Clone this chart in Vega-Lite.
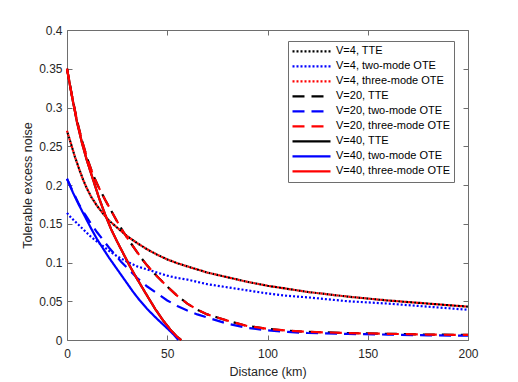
{
  "$schema": "https://vega.github.io/schema/vega-lite/v6.json",
  "width": 401,
  "height": 310,
  "autosize": {"type": "none"},
  "padding": {"left": 67, "top": 30, "right": 50, "bottom": 42},
  "background": "white",
  "data": {"values": [
    {"s":"V=4, TTE","d":0,"v":0.270},{"s":"V=4, TTE","d":2,"v":0.253},{"s":"V=4, TTE","d":4,"v":0.236},{"s":"V=4, TTE","d":6,"v":0.221},{"s":"V=4, TTE","d":8,"v":0.207},{"s":"V=4, TTE","d":10,"v":0.195},{"s":"V=4, TTE","d":12,"v":0.185},{"s":"V=4, TTE","d":15,"v":0.173},{"s":"V=4, TTE","d":18,"v":0.163},{"s":"V=4, TTE","d":21,"v":0.154},{"s":"V=4, TTE","d":25,"v":0.145},{"s":"V=4, TTE","d":30,"v":0.134},{"s":"V=4, TTE","d":35,"v":0.125},{"s":"V=4, TTE","d":40,"v":0.117},{"s":"V=4, TTE","d":45,"v":0.110},{"s":"V=4, TTE","d":50,"v":0.104},{"s":"V=4, TTE","d":55,"v":0.099},{"s":"V=4, TTE","d":60,"v":0.095},{"s":"V=4, TTE","d":70,"v":0.087},{"s":"V=4, TTE","d":80,"v":0.081},{"s":"V=4, TTE","d":90,"v":0.075},{"s":"V=4, TTE","d":100,"v":0.070},{"s":"V=4, TTE","d":110,"v":0.066},{"s":"V=4, TTE","d":120,"v":0.062},{"s":"V=4, TTE","d":140,"v":0.056},{"s":"V=4, TTE","d":160,"v":0.051},{"s":"V=4, TTE","d":180,"v":0.047},{"s":"V=4, TTE","d":200,"v":0.043},
    {"s":"V=4, three-mode OTE","d":0,"v":0.270},{"s":"V=4, three-mode OTE","d":2,"v":0.253},{"s":"V=4, three-mode OTE","d":4,"v":0.236},{"s":"V=4, three-mode OTE","d":6,"v":0.221},{"s":"V=4, three-mode OTE","d":8,"v":0.207},{"s":"V=4, three-mode OTE","d":10,"v":0.195},{"s":"V=4, three-mode OTE","d":12,"v":0.185},{"s":"V=4, three-mode OTE","d":15,"v":0.173},{"s":"V=4, three-mode OTE","d":18,"v":0.163},{"s":"V=4, three-mode OTE","d":21,"v":0.154},{"s":"V=4, three-mode OTE","d":25,"v":0.145},{"s":"V=4, three-mode OTE","d":30,"v":0.134},{"s":"V=4, three-mode OTE","d":35,"v":0.125},{"s":"V=4, three-mode OTE","d":40,"v":0.117},{"s":"V=4, three-mode OTE","d":45,"v":0.110},{"s":"V=4, three-mode OTE","d":50,"v":0.104},{"s":"V=4, three-mode OTE","d":55,"v":0.099},{"s":"V=4, three-mode OTE","d":60,"v":0.095},{"s":"V=4, three-mode OTE","d":70,"v":0.087},{"s":"V=4, three-mode OTE","d":80,"v":0.081},{"s":"V=4, three-mode OTE","d":90,"v":0.075},{"s":"V=4, three-mode OTE","d":100,"v":0.070},{"s":"V=4, three-mode OTE","d":110,"v":0.066},{"s":"V=4, three-mode OTE","d":120,"v":0.062},{"s":"V=4, three-mode OTE","d":140,"v":0.056},{"s":"V=4, three-mode OTE","d":160,"v":0.051},{"s":"V=4, three-mode OTE","d":180,"v":0.047},{"s":"V=4, three-mode OTE","d":200,"v":0.043},
    {"s":"V=4, two-mode OTE","d":0,"v":0.164},{"s":"V=4, two-mode OTE","d":2,"v":0.158},{"s":"V=4, two-mode OTE","d":4,"v":0.153},{"s":"V=4, two-mode OTE","d":6,"v":0.148},{"s":"V=4, two-mode OTE","d":8,"v":0.143},{"s":"V=4, two-mode OTE","d":10,"v":0.138},{"s":"V=4, two-mode OTE","d":12,"v":0.133},{"s":"V=4, two-mode OTE","d":15,"v":0.127},{"s":"V=4, two-mode OTE","d":18,"v":0.121},{"s":"V=4, two-mode OTE","d":21,"v":0.115},{"s":"V=4, two-mode OTE","d":25,"v":0.108},{"s":"V=4, two-mode OTE","d":30,"v":0.101},{"s":"V=4, two-mode OTE","d":35,"v":0.095},{"s":"V=4, two-mode OTE","d":40,"v":0.091},{"s":"V=4, two-mode OTE","d":45,"v":0.087},{"s":"V=4, two-mode OTE","d":50,"v":0.083},{"s":"V=4, two-mode OTE","d":55,"v":0.080},{"s":"V=4, two-mode OTE","d":60,"v":0.078},{"s":"V=4, two-mode OTE","d":70,"v":0.072},{"s":"V=4, two-mode OTE","d":80,"v":0.068},{"s":"V=4, two-mode OTE","d":90,"v":0.064},{"s":"V=4, two-mode OTE","d":100,"v":0.060},{"s":"V=4, two-mode OTE","d":110,"v":0.057},{"s":"V=4, two-mode OTE","d":120,"v":0.055},{"s":"V=4, two-mode OTE","d":140,"v":0.050},{"s":"V=4, two-mode OTE","d":160,"v":0.047},{"s":"V=4, two-mode OTE","d":180,"v":0.043},{"s":"V=4, two-mode OTE","d":200,"v":0.039},
    {"s":"V=20, TTE","d":0,"v":0.350},{"s":"V=20, TTE","d":2.5,"v":0.315},{"s":"V=20, TTE","d":5,"v":0.283},{"s":"V=20, TTE","d":7.5,"v":0.257},{"s":"V=20, TTE","d":10,"v":0.235},{"s":"V=20, TTE","d":13,"v":0.213},{"s":"V=20, TTE","d":16,"v":0.196},{"s":"V=20, TTE","d":19,"v":0.181},{"s":"V=20, TTE","d":22,"v":0.167},{"s":"V=20, TTE","d":25,"v":0.153},{"s":"V=20, TTE","d":28,"v":0.140},{"s":"V=20, TTE","d":31,"v":0.128},{"s":"V=20, TTE","d":34,"v":0.117},{"s":"V=20, TTE","d":37,"v":0.106},{"s":"V=20, TTE","d":40,"v":0.096},{"s":"V=20, TTE","d":45,"v":0.082},{"s":"V=20, TTE","d":50,"v":0.069},{"s":"V=20, TTE","d":55,"v":0.057},{"s":"V=20, TTE","d":60,"v":0.047},{"s":"V=20, TTE","d":65,"v":0.039},{"s":"V=20, TTE","d":70,"v":0.033},{"s":"V=20, TTE","d":75,"v":0.029},{"s":"V=20, TTE","d":80,"v":0.025},{"s":"V=20, TTE","d":90,"v":0.018},{"s":"V=20, TTE","d":100,"v":0.0145},{"s":"V=20, TTE","d":110,"v":0.012},{"s":"V=20, TTE","d":120,"v":0.0105},{"s":"V=20, TTE","d":140,"v":0.009},{"s":"V=20, TTE","d":160,"v":0.008},{"s":"V=20, TTE","d":180,"v":0.007},{"s":"V=20, TTE","d":200,"v":0.0065},
    {"s":"V=20, three-mode OTE","d":0,"v":0.350},{"s":"V=20, three-mode OTE","d":2.5,"v":0.315},{"s":"V=20, three-mode OTE","d":5,"v":0.283},{"s":"V=20, three-mode OTE","d":7.5,"v":0.257},{"s":"V=20, three-mode OTE","d":10,"v":0.235},{"s":"V=20, three-mode OTE","d":13,"v":0.213},{"s":"V=20, three-mode OTE","d":16,"v":0.196},{"s":"V=20, three-mode OTE","d":19,"v":0.181},{"s":"V=20, three-mode OTE","d":22,"v":0.167},{"s":"V=20, three-mode OTE","d":25,"v":0.153},{"s":"V=20, three-mode OTE","d":28,"v":0.140},{"s":"V=20, three-mode OTE","d":31,"v":0.128},{"s":"V=20, three-mode OTE","d":34,"v":0.117},{"s":"V=20, three-mode OTE","d":37,"v":0.106},{"s":"V=20, three-mode OTE","d":40,"v":0.096},{"s":"V=20, three-mode OTE","d":45,"v":0.082},{"s":"V=20, three-mode OTE","d":50,"v":0.069},{"s":"V=20, three-mode OTE","d":55,"v":0.057},{"s":"V=20, three-mode OTE","d":60,"v":0.047},{"s":"V=20, three-mode OTE","d":65,"v":0.039},{"s":"V=20, three-mode OTE","d":70,"v":0.033},{"s":"V=20, three-mode OTE","d":75,"v":0.029},{"s":"V=20, three-mode OTE","d":80,"v":0.025},{"s":"V=20, three-mode OTE","d":90,"v":0.018},{"s":"V=20, three-mode OTE","d":100,"v":0.0145},{"s":"V=20, three-mode OTE","d":110,"v":0.012},{"s":"V=20, three-mode OTE","d":120,"v":0.0105},{"s":"V=20, three-mode OTE","d":140,"v":0.009},{"s":"V=20, three-mode OTE","d":160,"v":0.008},{"s":"V=20, three-mode OTE","d":180,"v":0.007},{"s":"V=20, three-mode OTE","d":200,"v":0.0065},
    {"s":"V=20, two-mode OTE","d":0,"v":0.208},{"s":"V=20, two-mode OTE","d":3,"v":0.191},{"s":"V=20, two-mode OTE","d":6,"v":0.175},{"s":"V=20, two-mode OTE","d":9,"v":0.162},{"s":"V=20, two-mode OTE","d":12,"v":0.150},{"s":"V=20, two-mode OTE","d":15,"v":0.139},{"s":"V=20, two-mode OTE","d":18,"v":0.129},{"s":"V=20, two-mode OTE","d":21,"v":0.119},{"s":"V=20, two-mode OTE","d":24,"v":0.110},{"s":"V=20, two-mode OTE","d":27,"v":0.101},{"s":"V=20, two-mode OTE","d":30,"v":0.093},{"s":"V=20, two-mode OTE","d":35,"v":0.080},{"s":"V=20, two-mode OTE","d":40,"v":0.069},{"s":"V=20, two-mode OTE","d":45,"v":0.060},{"s":"V=20, two-mode OTE","d":50,"v":0.051},{"s":"V=20, two-mode OTE","d":55,"v":0.044},{"s":"V=20, two-mode OTE","d":60,"v":0.038},{"s":"V=20, two-mode OTE","d":65,"v":0.033},{"s":"V=20, two-mode OTE","d":70,"v":0.029},{"s":"V=20, two-mode OTE","d":75,"v":0.025},{"s":"V=20, two-mode OTE","d":80,"v":0.021},{"s":"V=20, two-mode OTE","d":90,"v":0.0155},{"s":"V=20, two-mode OTE","d":100,"v":0.0125},{"s":"V=20, two-mode OTE","d":110,"v":0.0105},{"s":"V=20, two-mode OTE","d":120,"v":0.009},{"s":"V=20, two-mode OTE","d":140,"v":0.0078},{"s":"V=20, two-mode OTE","d":160,"v":0.007},{"s":"V=20, two-mode OTE","d":180,"v":0.006},{"s":"V=20, two-mode OTE","d":200,"v":0.0056},
    {"s":"V=40, TTE","d":0,"v":0.350},{"s":"V=40, TTE","d":2.5,"v":0.314},{"s":"V=40, TTE","d":5,"v":0.281},{"s":"V=40, TTE","d":7.5,"v":0.254},{"s":"V=40, TTE","d":10,"v":0.231},{"s":"V=40, TTE","d":13,"v":0.207},{"s":"V=40, TTE","d":16,"v":0.183},{"s":"V=40, TTE","d":19,"v":0.162},{"s":"V=40, TTE","d":22,"v":0.143},{"s":"V=40, TTE","d":25,"v":0.127},{"s":"V=40, TTE","d":28,"v":0.112},{"s":"V=40, TTE","d":31,"v":0.097},{"s":"V=40, TTE","d":34,"v":0.083},{"s":"V=40, TTE","d":37,"v":0.070},{"s":"V=40, TTE","d":40,"v":0.057},{"s":"V=40, TTE","d":44,"v":0.040},{"s":"V=40, TTE","d":48,"v":0.025},{"s":"V=40, TTE","d":52,"v":0.012},{"s":"V=40, TTE","d":55,"v":0.004},{"s":"V=40, TTE","d":57,"v":0},
    {"s":"V=40, three-mode OTE","d":0,"v":0.350},{"s":"V=40, three-mode OTE","d":2.5,"v":0.314},{"s":"V=40, three-mode OTE","d":5,"v":0.281},{"s":"V=40, three-mode OTE","d":7.5,"v":0.254},{"s":"V=40, three-mode OTE","d":10,"v":0.231},{"s":"V=40, three-mode OTE","d":13,"v":0.207},{"s":"V=40, three-mode OTE","d":16,"v":0.183},{"s":"V=40, three-mode OTE","d":19,"v":0.162},{"s":"V=40, three-mode OTE","d":22,"v":0.143},{"s":"V=40, three-mode OTE","d":25,"v":0.127},{"s":"V=40, three-mode OTE","d":28,"v":0.112},{"s":"V=40, three-mode OTE","d":31,"v":0.097},{"s":"V=40, three-mode OTE","d":34,"v":0.083},{"s":"V=40, three-mode OTE","d":37,"v":0.070},{"s":"V=40, three-mode OTE","d":40,"v":0.057},{"s":"V=40, three-mode OTE","d":44,"v":0.040},{"s":"V=40, three-mode OTE","d":48,"v":0.025},{"s":"V=40, three-mode OTE","d":52,"v":0.012},{"s":"V=40, three-mode OTE","d":55,"v":0.004},{"s":"V=40, three-mode OTE","d":57,"v":0},
    {"s":"V=40, two-mode OTE","d":0,"v":0.208},{"s":"V=40, two-mode OTE","d":3,"v":0.190},{"s":"V=40, two-mode OTE","d":6,"v":0.174},{"s":"V=40, two-mode OTE","d":9,"v":0.159},{"s":"V=40, two-mode OTE","d":12,"v":0.144},{"s":"V=40, two-mode OTE","d":15,"v":0.130},{"s":"V=40, two-mode OTE","d":18,"v":0.118},{"s":"V=40, two-mode OTE","d":21,"v":0.106},{"s":"V=40, two-mode OTE","d":24,"v":0.095},{"s":"V=40, two-mode OTE","d":27,"v":0.084},{"s":"V=40, two-mode OTE","d":30,"v":0.073},{"s":"V=40, two-mode OTE","d":33,"v":0.062},{"s":"V=40, two-mode OTE","d":36,"v":0.052},{"s":"V=40, two-mode OTE","d":40,"v":0.040},{"s":"V=40, two-mode OTE","d":45,"v":0.027},{"s":"V=40, two-mode OTE","d":50,"v":0.015},{"s":"V=40, two-mode OTE","d":53,"v":0.0075},{"s":"V=40, two-mode OTE","d":55.5,"v":0}
  ]},
  "layer": [
    {
      "transform": [{"filter": {"field": "s", "oneOf": ["V=4, TTE", "V=20, TTE", "V=40, TTE"]}}],
      "mark": {"type": "line", "strokeWidth": 2.2, "strokeDashOffset": 2},
      "encoding": {
        "x": {"field": "d", "type": "quantitative", "scale": {"domain": [0, 200], "nice": false}, "axis": {"orient": "bottom", "values": [0, 50, 100, 150, 200], "title": "Distance (km)", "labelPadding": 13, "titlePadding": 6}},
        "y": {"field": "v", "type": "quantitative", "scale": {"domain": [0, 0.4], "nice": false}, "axis": {"orient": "left", "values": [0, 0.05, 0.1, 0.15, 0.2, 0.25, 0.3, 0.35, 0.4], "format": "~g", "title": "Tolerable excess noise", "labelPadding": 10}},
        "color": {"field": "s", "type": "nominal", "scale": {"domain": ["V=4, TTE", "V=4, two-mode OTE", "V=4, three-mode OTE", "V=20, TTE", "V=20, two-mode OTE", "V=20, three-mode OTE", "V=40, TTE", "V=40, two-mode OTE", "V=40, three-mode OTE"], "range": ["#000000", "#0000ff", "#ff0000", "#000000", "#0000ff", "#ff0000", "#000000", "#0000ff", "#ff0000"]}, "legend": {"title": null}},
        "strokeDash": {"field": "s", "type": "nominal", "scale": {"domain": ["V=4, TTE", "V=4, two-mode OTE", "V=4, three-mode OTE", "V=20, TTE", "V=20, two-mode OTE", "V=20, three-mode OTE", "V=40, TTE", "V=40, two-mode OTE", "V=40, three-mode OTE"], "range": [[2, 2], [2, 2], [2, 2], [12, 7], [12, 7], [12, 7], [1, 0], [1, 0], [1, 0]]}, "legend": {"title": null}}
      }
    },
    {
      "transform": [{"filter": {"field": "s", "oneOf": ["V=4, two-mode OTE", "V=20, two-mode OTE", "V=40, two-mode OTE"]}}],
      "mark": {"type": "line", "strokeWidth": 2.2},
      "encoding": {
        "x": {"field": "d", "type": "quantitative", "axis": null},
        "y": {"field": "v", "type": "quantitative", "axis": null},
        "color": {"field": "s", "type": "nominal"},
        "strokeDash": {"field": "s", "type": "nominal"}
      }
    },
    {
      "transform": [{"filter": {"field": "s", "oneOf": ["V=4, three-mode OTE", "V=20, three-mode OTE", "V=40, three-mode OTE"]}}],
      "mark": {"type": "line", "strokeWidth": 2.2},
      "encoding": {
        "x": {"field": "d", "type": "quantitative", "axis": null},
        "y": {"field": "v", "type": "quantitative", "axis": null},
        "color": {"field": "s", "type": "nominal"},
        "strokeDash": {"field": "s", "type": "nominal"}
      }
    },
    {
      "mark": {"type": "point", "opacity": 0},
      "encoding": {
        "x": {"field": "d", "type": "quantitative", "axis": {"orient": "top", "values": [0, 50, 100, 150, 200], "labels": false, "title": null}},
        "y": {"field": "v", "type": "quantitative", "axis": {"orient": "right", "values": [0, 0.05, 0.1, 0.15, 0.2, 0.25, 0.3, 0.35, 0.4], "labels": false, "title": null}}
      }
    }
  ],
  "resolve": {"axis": {"x": "independent", "y": "independent"}},
  "config": {
    "view": {"stroke": "#6e6e6e", "strokeWidth": 1},
    "axis": {"domain": false, "grid": false, "tickSize": -5, "tickColor": "#6e6e6e", "labelFlush": false, "labelOverlap": false, "labelFont": "Liberation Sans", "labelFontSize": 12, "labelColor": "#262626", "labelPadding": 11, "titleFont": "Liberation Sans", "titleFontSize": 12.5, "titleFontWeight": "normal", "titleColor": "#262626"},
    "legend": {"orient": "none", "legendX": 221, "legendY": 11, "direction": "vertical", "fillColor": "white", "strokeColor": "#6e6e6e", "padding": 3, "symbolType": "stroke", "symbolSize": 1444, "symbolStrokeWidth": 2.2, "clipHeight": 14.6, "rowPadding": 0, "labelFont": "Liberation Sans", "labelFontSize": 11, "labelColor": "#000000", "labelOffset": 4, "labelLimit": 200}
  }
}
